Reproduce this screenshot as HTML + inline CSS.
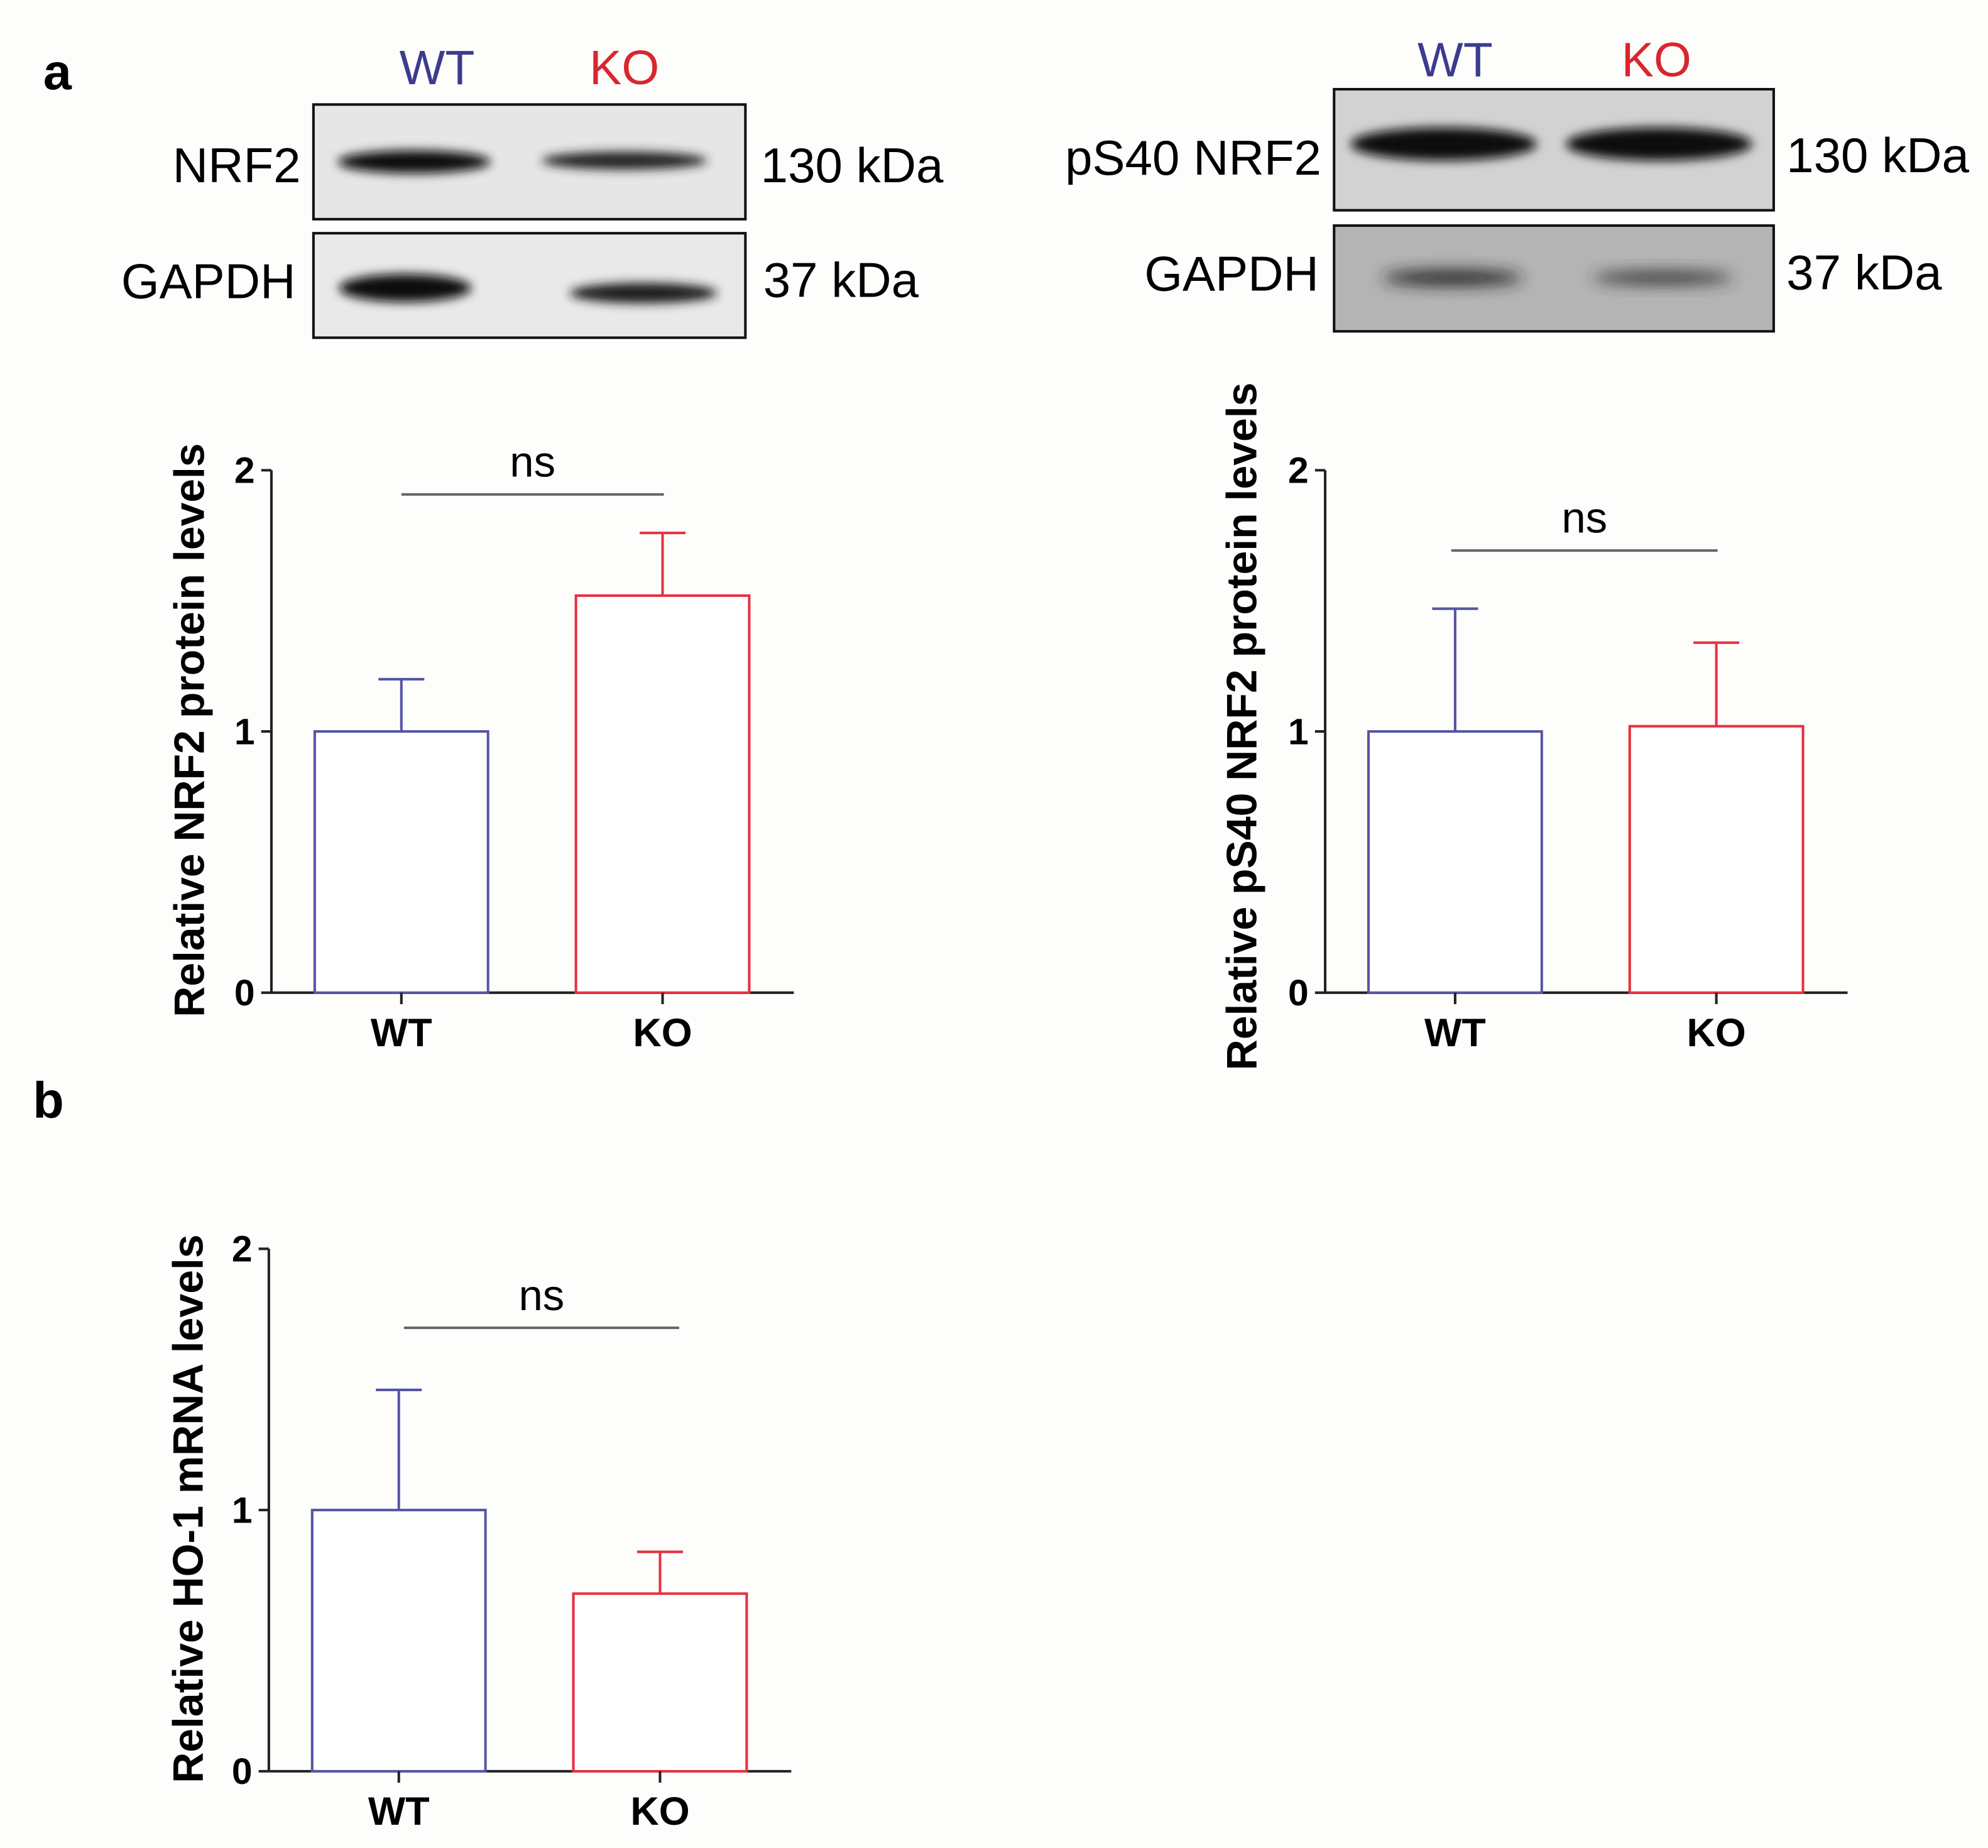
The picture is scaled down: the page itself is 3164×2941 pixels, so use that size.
<!DOCTYPE html>
<html><head><meta charset="utf-8">
<style>
html,body{margin:0;padding:0;background:#fdfdfb;}
svg{display:block;}
text{font-family:"Liberation Sans",Arial,sans-serif;}
</style></head>
<body>
<svg id="fig" width="3164" height="2941" viewBox="0 0 1560.2 1450.2" xmlns="http://www.w3.org/2000/svg">
<defs>
<filter id="blur" x="-20%" y="-100%" width="140%" height="300%"><feGaussianBlur stdDeviation="4"/></filter>
<filter id="blur2" x="-20%" y="-100%" width="140%" height="300%"><feGaussianBlur stdDeviation="6"/></filter>
</defs>
<rect x="0" y="0" width="1560.2" height="1450.2" fill="#fdfdfb"/>

<text x="45" y="70" font-size="40" font-weight="bold" text-anchor="middle">a</text>
<text x="38" y="877" font-size="40" font-weight="bold" text-anchor="middle">b</text>

<!-- Left blot -->
<g>
<text x="343" y="66" font-size="38" fill="#3b3b8f" text-anchor="middle">WT</text>
<text x="490" y="66" font-size="38" fill="#d9262e" text-anchor="middle">KO</text>
<rect x="246" y="82" width="339" height="90" fill="#e6e6e6" stroke="#111" stroke-width="2"/>
<ellipse cx="325" cy="127" rx="60" ry="9" fill="#111" filter="url(#blur)"/>
<ellipse cx="490" cy="126" rx="65" ry="7" fill="#222" filter="url(#blur)"/>
<rect x="246" y="183" width="339" height="82" fill="#e9e9e9" stroke="#111" stroke-width="2"/>
<ellipse cx="318" cy="226" rx="52" ry="11" fill="#0a0a0a" filter="url(#blur)"/>
<ellipse cx="505" cy="230" rx="58" ry="8" fill="#1a1a1a" filter="url(#blur)"/>
<text x="236" y="143" font-size="38.5" text-anchor="end">NRF2</text>
<text x="232" y="234" font-size="38.5" text-anchor="end">GAPDH</text>
<text x="597" y="143" font-size="38.5">130 kDa</text>
<text x="599" y="233" font-size="38.5">37 kDa</text>
</g>

<!-- Right blot -->
<g>
<text x="1142" y="60" font-size="38" fill="#3b3b8f" text-anchor="middle">WT</text>
<text x="1300" y="60" font-size="38" fill="#d9262e" text-anchor="middle">KO</text>
<rect x="1047" y="70" width="345" height="95" fill="#d2d2d2" stroke="#111" stroke-width="2"/>
<ellipse cx="1133" cy="113" rx="73" ry="13" fill="#0a0a0a" filter="url(#blur)"/>
<ellipse cx="1302" cy="113" rx="73" ry="13" fill="#0a0a0a" filter="url(#blur)"/>
<rect x="1047" y="177" width="345" height="83" fill="#b4b4b4" stroke="#111" stroke-width="2"/>
<ellipse cx="1140" cy="218" rx="55" ry="6" fill="#222" filter="url(#blur2)"/>
<ellipse cx="1305" cy="218" rx="55" ry="5" fill="#333" filter="url(#blur2)"/>
<text x="1037" y="137" font-size="38.5" text-anchor="end">pS40 NRF2</text>
<text x="1035" y="228" font-size="38.5" text-anchor="end">GAPDH</text>
<text x="1402" y="135" font-size="38.5">130 kDa</text>
<text x="1402" y="227" font-size="38.5">37 kDa</text>
</g>

<g id="charts"></g>
</svg>
<script>
const categories = ["WT", "KO"];
const nrf2Means = [1.0, 1.52];
const nrf2Errors = [0.2, 0.24];
const ps40Means = [1.0, 1.02];
const ps40Errors = [0.47, 0.32];
const ho1Means = [1.0, 0.68];
const ho1Errors = [0.46, 0.16];
const yTicks = [0, 1, 2];
const yTickLabels = ["0", "1", "2"];
const sigLabels = ["ns", "ns", "ns"];

const NS = "http://www.w3.org/2000/svg";
const root = document.getElementById("charts");
const colors = ["#5555a5", "#e8303f"];

function el(tag, attrs, parent) {
  const e = document.createElementNS(NS, tag);
  for (const k in attrs) e.setAttribute(k, attrs[k]);
  (parent || root).appendChild(e);
  return e;
}

function drawChart(cfg, means, errs, sig, name) {
  const g = el("g", {});
  
  
  const y = v => cfg.y0 - (v / 2) * (cfg.y0 - cfg.y2);
  const step = 205;
  const barW = 136;
  const xc = i => cfg.ax + 102 + i * step;
  const ya = el("line", {x1: cfg.ax, y1: cfg.y2, x2: cfg.ax, y2: cfg.y0, stroke: "#222", "stroke-width": 2}, g);
  
  
  const xa = el("line", {x1: cfg.ax, y1: cfg.y0, x2: cfg.ax + 410, y2: cfg.y0, stroke: "#222", "stroke-width": 2}, g);
  
  
  yTicks.forEach((t, i) => {
    const tk = el("line", {x1: cfg.ax - 8, y1: y(t), x2: cfg.ax, y2: y(t), stroke: "#222", "stroke-width": 2}, g);
    
    
    const tl = el("text", {x: cfg.ax - 13, y: y(t) + 10, "font-size": 29, "font-weight": "bold", "text-anchor": "end"}, g);
    tl.textContent = yTickLabels[i];
    
    
  });
  categories.forEach((c, i) => {
    const cx = xc(i);
    const b = el("rect", {x: cx - barW / 2, y: y(means[i]), width: barW, height: cfg.y0 - y(means[i]), fill: "#fff", stroke: colors[i], "stroke-width": 2}, g);
    
    
    const ev = el("line", {x1: cx, y1: y(means[i]), x2: cx, y2: y(means[i] + errs[i]), stroke: colors[i], "stroke-width": 2}, g);
    
    
    const ec = el("line", {x1: cx - 18, y1: y(means[i] + errs[i]), x2: cx + 18, y2: y(means[i] + errs[i]), stroke: colors[i], "stroke-width": 2}, g);
    
    
    const tk = el("line", {x1: cx, y1: cfg.y0, x2: cx, y2: cfg.y0 + 9, stroke: "#222", "stroke-width": 2}, g);
    
    
    const cl = el("text", {x: cx, y: cfg.y0 + 42, "font-size": 31, "font-weight": "bold", "text-anchor": "middle"}, g);
    cl.textContent = c;
    
    
  });
  const sl = el("line", {x1: cfg.sx1, y1: cfg.sy, x2: cfg.sx2, y2: cfg.sy, stroke: "#666", "stroke-width": 2}, g);
  
  
  const st = el("text", {x: (cfg.sx1 + cfg.sx2) / 2, y: cfg.sy - 14, "font-size": 34, "text-anchor": "middle"}, g);
  st.textContent = sig;
  
  
  const yt = el("text", {x: 0, y: 0, "font-size": 33.5, "font-weight": "bold", "text-anchor": "middle", transform: "translate(" + cfg.tx + "," + cfg.ty + ") rotate(-90)"}, g);
  yt.textContent = cfg.title;
  
  
}

drawChart({ax: 213, y0: 779, y2: 369, sx1: 315, sx2: 521, sy: 388, tx: 160, ty: 573, title: "Relative NRF2 protein levels"}, nrf2Means, nrf2Errors, sigLabels[0], "nrf2-chart");
drawChart({ax: 1040, y0: 779, y2: 369, sx1: 1139, sx2: 1348, sy: 432, tx: 986, ty: 570, title: "Relative pS40 NRF2 protein levels"}, ps40Means, ps40Errors, sigLabels[1], "ps40-chart");
drawChart({ax: 211, y0: 1390, y2: 980, sx1: 317, sx2: 533, sy: 1042, tx: 159, ty: 1184, title: "Relative HO-1 mRNA levels"}, ho1Means, ho1Errors, sigLabels[2], "ho1-chart");
</script>
</body></html>
